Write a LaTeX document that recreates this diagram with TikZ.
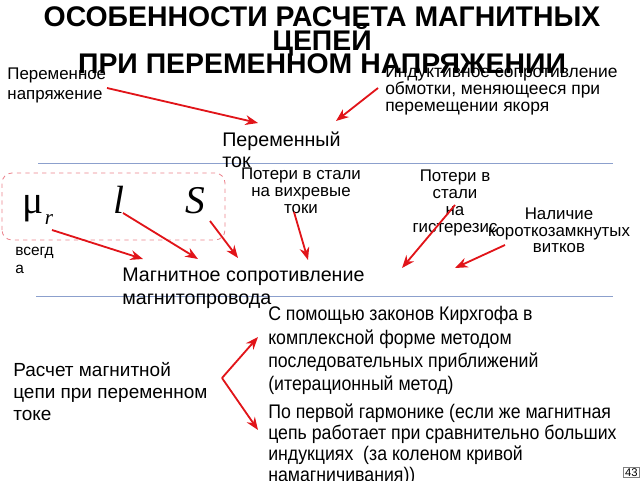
\documentclass[tikz,border=0pt]{standalone}
\usepackage{fontspec}
\setmainfont{Liberation Sans}
\newfontfamily\serifmath{Liberation Serif}
\newfontfamily\narrowsans[FakeStretch=0.9]{Liberation Sans}
\usetikzlibrary{arrows.meta}
\definecolor{arrowred}{RGB}{225,20,25}
\definecolor{rulerblue}{RGB}{140,160,205}
\definecolor{boxpink}{RGB}{235,130,140}
\newcommand\titlefont{\bfseries\fontsize{20.2}{17}\selectfont\lineskiplimit=-20pt\relax}

\begin{document}
\begin{tikzpicture}[
		redarrow/.style={draw=arrowred, line width=1.3pt, -{Stealth[length=9pt,width=7pt]}},
		rulerline/.style={draw=rulerblue, line width=0.6pt},
		txt/.style={inner sep=0pt, align=left, anchor=north west},
		ctxt/.style={inner sep=0pt, align=center, anchor=north},
		symb/.style={inner sep=0pt, anchor=base west, font=\serifmath\fontsize{28}{28}\selectfont}
	]
		\useasboundingbox (0,0) rectangle (16,12);
		% separators and the dashed group
		\draw[rulerline] (0.95,7.925) -- (15.325,7.925);
		\draw[rulerline] (0.9,4.6) -- (15.325,4.6);
		\draw[draw=boxpink, dashed, line width=0.6pt, rounded corners=0.25cm] (0.05,6.0) rectangle (5.625,7.675);
		% texts
		\node[ctxt, font=\titlefont] (title) at (8.05,11.85) {ОСОБЕННОСТИ РАСЧЕТА МАГНИТНЫХ\\ЦЕПЕЙ\\ПРИ ПЕРЕМЕННОМ НАПРЯЖЕНИИ};
		\node[txt, font=\fontsize{12}{14.2}\selectfont] (volt) at (0.18,10.3) {Переменное\\напряжение};
		\node[txt, font=\fontsize{12.4}{12}\selectfont] (induct) at (9.625,10.375) {Индуктивное сопротивление\\обмотки, меняющееся при\\перемещении якоря};
		\node[txt, font=\fontsize{14}{14.4}\selectfont] (current) at (5.55,8.7) {Переменный\\ток};
		\node[symb] (mur) at (0.55,6.675) {μ\kern1pt\raisebox{-8pt}{\fontsize{15}{15}\selectfont\itshape r}};
		\node[symb] (len) at (2.825,6.675) {\itshape l};
		\node[symb] (area) at (4.625,6.675) {\itshape S};
		\node[txt, font=\fontsize{11}{13}\selectfont] (always) at (0.375,5.825) {всегд\\а};
		\node[ctxt, font=\fontsize{12}{12}\selectfont] (eddy) at (7.525,7.8) {Потери в стали\\на вихревые\\токи};
		\node[ctxt, font=\fontsize{12}{12}\selectfont] (hyst) at (11.375,7.75) {Потери в\\стали\\на\\гистерезис};
		\node[ctxt, font=\fontsize{12}{11.6}\selectfont] (short) at (13.975,6.8) {Наличие\\короткозамкнутых\\витков};
		\node[txt, font=\fontsize{14}{16}\selectfont] (reluct) at (3.05,5.3) {Магнитное сопротивление\\магнитопровода};
		\node[txt, font=\fontsize{13.5}{15.6}\selectfont] (calc) at (0.325,2.95) {Расчет магнитной\\цепи при переменном\\токе};
		\node[txt, font=\narrowsans\fontsize{14}{16.4}\selectfont] (kirch) at (6.7,4.34) {С помощью законов Кирхгофа в\\комплексной форме методом\\последовательных приближений\\(итерационный метод)};
		\node[txt, font=\narrowsans\fontsize{14}{15}\selectfont] (harm) at (6.7,1.92) {По первой гармонике (если же магнитная\\цепь работает при сравнительно больших\\индукциях~~(за коленом кривой\\намагничивания))};
		\node[draw=gray, inner sep=1pt, font=\fontsize{8}{8}\selectfont, anchor=south east] (pagenum) at (15.98,0.05) {43};
		% arrow ends
		\coordinate (voltA) at (2.675,9.8);
		\coordinate (voltB) at (6.45,8.925);
		\coordinate (indA) at (9.45,9.8);
		\coordinate (indB) at (8.4,8.975);
		\coordinate (muA) at (1.3,6.25);
		\coordinate (muB) at (3.575,5.525);
		\coordinate (lenA) at (3.075,6.675);
		\coordinate (lenB) at (4.95,5.525);
		\coordinate (areaA) at (5.25,6.475);
		\coordinate (areaB) at (5.95,5.55);
		\coordinate (eddyA) at (7.35,6.7);
		\coordinate (eddyB) at (7.7,5.5);
		\coordinate (hystA) at (11.375,6.875);
		\coordinate (hystB) at (10.05,5.3);
		\coordinate (shortA) at (12.625,5.875);
		\coordinate (shortB) at (11.375,5.3);
		\coordinate (fork) at (5.55,2.55);
		\coordinate (forkUp) at (6.45,3.575);
		\coordinate (forkDown) at (6.45,1.25);
		% arrows
		\draw[redarrow] (voltA) -- (voltB);
		\draw[redarrow] (indA) -- (indB);
		\draw[redarrow] (muA) -- (muB);
		\draw[redarrow] (lenA) -- (lenB);
		\draw[redarrow] (areaA) -- (areaB);
		\draw[redarrow] (eddyA) -- (eddyB);
		\draw[redarrow] (hystA) -- (hystB);
		\draw[redarrow] (shortA) -- (shortB);
		\draw[redarrow] (fork) -- (forkUp);
		\draw[redarrow] (fork) -- (forkDown);
	\end{tikzpicture}
\end{document}
